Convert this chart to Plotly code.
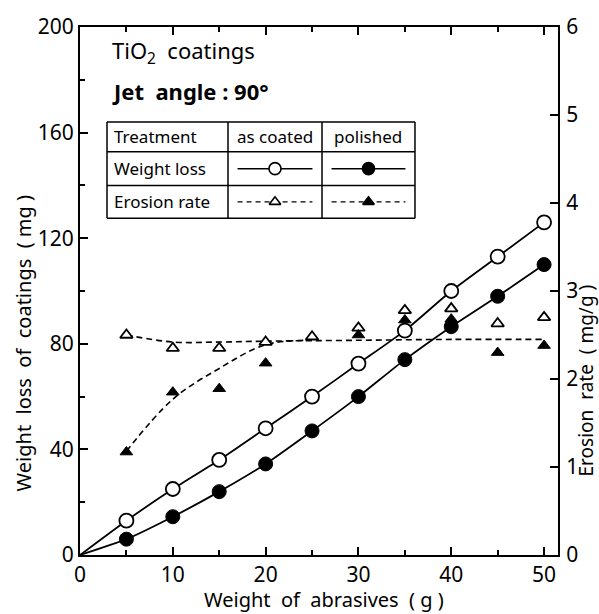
import plotly.graph_objects as go

# Measured data: abrasive mass (g) vs weight loss (mg) and erosion rate (mg/g)
abrasive_g = [5, 10, 15, 20, 25, 30, 35, 40, 45, 50]
loss_coated = [13, 25, 36, 48, 60, 72.5, 85, 100, 113, 126]
loss_polished = [6, 14.5, 24, 34.5, 47, 60, 74, 86.5, 98, 110]

rate_coated = [2.50, 2.35, 2.35, 2.42, 2.48, 2.58, 2.78, 2.80, 2.63, 2.70]
rate_polished_x = [5, 10, 15, 20, 30, 35, 40, 45, 50]
rate_polished = [1.17, 1.85, 1.89, 2.18, 2.50, 2.67, 2.68, 2.30, 2.38]

# Hand-drawn trend curves for erosion rate
trend_coated_x = [5, 10, 15, 20, 30, 40, 50]
trend_coated = [2.50, 2.42, 2.42, 2.43, 2.44, 2.45, 2.45]
trend_polished_x = [5, 10, 15, 20, 25]
trend_polished = [1.18, 1.77, 2.12, 2.39, 2.44]

x_ticks = [0, 10, 20, 30, 40, 50]
loss_ticks = [0, 40, 80, 120, 160, 200]
rate_ticks = [0, 1, 2, 3, 4, 5, 6]

FONT = "Noto Sans"
BLACK = "black"

fig = go.Figure()

# Weight-loss trend lines start at the origin
fig.add_trace(go.Scatter(x=[0] + abrasive_g, y=[0] + loss_coated, mode="lines",
                         line=dict(color=BLACK, width=1.8, shape="spline", smoothing=0.6),
                         showlegend=False, hoverinfo="skip"))
fig.add_trace(go.Scatter(x=[0] + abrasive_g, y=[0] + loss_polished, mode="lines",
                         line=dict(color=BLACK, width=1.8, shape="spline", smoothing=0.6),
                         showlegend=False, hoverinfo="skip"))

# Erosion-rate trend curves (right axis)
fig.add_trace(go.Scatter(x=trend_coated_x, y=trend_coated, mode="lines", yaxis="y2",
                         line=dict(color=BLACK, width=1.6, dash="6px,4px", shape="spline"),
                         showlegend=False, hoverinfo="skip"))
fig.add_trace(go.Scatter(x=trend_polished_x, y=trend_polished, mode="lines", yaxis="y2",
                         line=dict(color=BLACK, width=1.6, dash="6px,4px", shape="spline"),
                         showlegend=False, hoverinfo="skip"))

# Markers
fig.add_trace(go.Scatter(x=abrasive_g, y=rate_coated, mode="markers", yaxis="y2",
                         marker=dict(symbol="triangle-up", size=11, color="white",
                                     line=dict(color=BLACK, width=1.8)),
                         name="Erosion rate, as coated"))
fig.add_trace(go.Scatter(x=rate_polished_x, y=rate_polished, mode="markers", yaxis="y2",
                         marker=dict(symbol="triangle-up", size=11, color=BLACK,
                                     line=dict(color=BLACK, width=1)),
                         name="Erosion rate, polished"))
fig.add_trace(go.Scatter(x=abrasive_g, y=loss_coated, mode="markers",
                         marker=dict(symbol="circle", size=14, color="white",
                                     line=dict(color=BLACK, width=1.8)),
                         name="Weight loss, as coated"))
fig.add_trace(go.Scatter(x=abrasive_g, y=loss_polished, mode="markers",
                         marker=dict(symbol="circle", size=14, color=BLACK,
                                     line=dict(color=BLACK, width=1)),
                         name="Weight loss, polished"))

# Key table: grid in paper coordinates
col_edges = [0.0565, 0.3096, 0.5063, 0.7008]
row_edges = [0.8199, 0.7636, 0.6998, 0.6379]
shapes = []
for cx in col_edges:
    shapes.append(dict(type="line", xref="paper", yref="paper", x0=cx, x1=cx,
                       y0=row_edges[-1], y1=row_edges[0], line=dict(color=BLACK, width=1.5)))
for ry in row_edges:
    shapes.append(dict(type="line", xref="paper", yref="paper", x0=col_edges[0], x1=col_edges[-1],
                       y0=ry, y1=ry, line=dict(color=BLACK, width=1.5)))

row_mid = [(row_edges[i] + row_edges[i + 1]) / 2 for i in range(3)]
col_mid = [(col_edges[i] + col_edges[i + 1]) / 2 for i in range(3)]

# Key samples drawn on an overlay axis spanning the plot in [0, 1]
pad = 0.02
for ci, filled in zip([1, 2], [False, True]):
    x0, x1 = col_edges[ci] + pad, col_edges[ci + 1] - pad
    xm = col_mid[ci]
    fig.add_trace(go.Scatter(x=[x0, x1], y=[row_mid[1]] * 2, mode="lines", xaxis="x3", yaxis="y3",
                             line=dict(color=BLACK, width=1.5), showlegend=False, hoverinfo="skip"))
    fig.add_trace(go.Scatter(x=[xm], y=[row_mid[1]], mode="markers", xaxis="x3", yaxis="y3",
                             marker=dict(symbol="circle", size=12, color=BLACK if filled else "white",
                                         line=dict(color=BLACK, width=1.6)),
                             showlegend=False, hoverinfo="skip"))
    fig.add_trace(go.Scatter(x=[x0, x1], y=[row_mid[2]] * 2, mode="lines", xaxis="x3", yaxis="y3",
                             line=dict(color=BLACK, width=1.3, dash="5px,4px"),
                             showlegend=False, hoverinfo="skip"))
    fig.add_trace(go.Scatter(x=[xm], y=[row_mid[2]], mode="markers", xaxis="x3", yaxis="y3",
                             marker=dict(symbol="triangle-up", size=10, color=BLACK if filled else "white",
                                         line=dict(color=BLACK, width=1.6)),
                             showlegend=False, hoverinfo="skip"))

annotations = []
def txt(text, x, y, size=17, xanchor="left", bold=False, angle=0):
    annotations.append(dict(text=f"<b>{text}</b>" if bold else text, x=x, y=y,
                            xref="paper", yref="paper", xanchor=xanchor, yanchor="middle",
                            showarrow=False, textangle=angle,
                            font=dict(family=FONT, size=size, color=BLACK)))

txt("Treatment", col_edges[0] + 0.01, row_mid[0])
txt("as coated", col_mid[1], row_mid[0], xanchor="center")
txt("polished", col_mid[2], row_mid[0], xanchor="center")
txt("Weight loss", col_edges[0] + 0.01, row_mid[1])
txt("Erosion rate", col_edges[0] + 0.01, row_mid[2])

txt("TiO<sub>2</sub>  coatings", 0.062, 0.952, size=22)
txt("Jet  angle : 90°", 0.062, 0.878, size=22, bold=True)

txt("Weight  loss  of  coatings  ( mg )", -0.118, 0.40, size=20, xanchor="center", angle=-90)
txt("Erosion  rate  ( mg/g )", 1.058, 0.33, size=19, xanchor="center", angle=-90)
annotations.append(dict(text="Weight  of  abrasives  ( g )", x=0.51, y=-0.085, xref="paper", yref="paper",
                        xanchor="center", yanchor="middle", showarrow=False,
                        font=dict(family=FONT, size=20, color=BLACK)))

tick_font = dict(family=FONT, size=21, color=BLACK)
fig.update_layout(
    width=599, height=614,
    margin=dict(l=80, r=41, t=22, b=59),
    paper_bgcolor="white", plot_bgcolor="white",
    showlegend=False,
    shapes=shapes, annotations=annotations,
    xaxis=dict(range=[0, 51.5], tickvals=x_ticks, ticks="inside", ticklen=8, tickwidth=1.5,
               tickcolor=BLACK, showline=True, linecolor=BLACK, linewidth=2, mirror="ticks",
               minor=dict(dtick=5, tick0=0, ticks="inside", ticklen=5, tickcolor=BLACK, tickwidth=1.5),
               showgrid=False, zeroline=False, tickfont=tick_font),
    yaxis=dict(range=[0, 200], tickvals=loss_ticks, ticks="inside", ticklen=8, tickwidth=1.5,
               tickcolor=BLACK, showline=True, linecolor=BLACK, linewidth=2,
               minor=dict(dtick=20, tick0=0, ticks="inside", ticklen=5, tickcolor=BLACK, tickwidth=1.5),
               showgrid=False, zeroline=False, tickfont=tick_font),
    yaxis2=dict(range=[0, 6], tickvals=rate_ticks, overlaying="y", side="right", ticks="inside",
                ticklen=8, tickwidth=1.5, tickcolor=BLACK, showline=True, linecolor=BLACK, linewidth=2,
                showgrid=False, zeroline=False, tickfont=tick_font, ticklabelstandoff=2),
    xaxis3=dict(range=[0, 1], overlaying="x", visible=False, anchor="y3"),
    yaxis3=dict(range=[0, 1], overlaying="y", visible=False, anchor="x3"),
)

fig.write_html("out.html")
